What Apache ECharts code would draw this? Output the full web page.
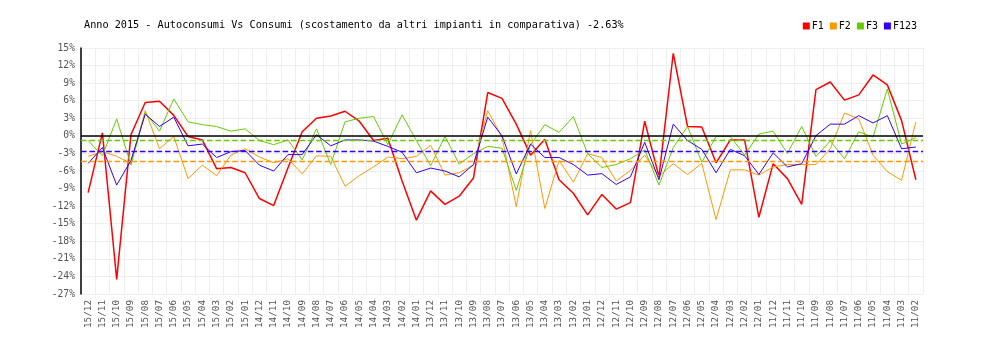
<!DOCTYPE html>
<html>
<head>
<meta charset="utf-8">
<title>Autoconsumi Vs Consumi 2015</title>
<script src="https://cdn.jsdelivr.net/npm/echarts@6/dist/echarts.min.js"></script>
<style>
  html, body { margin: 0; padding: 0; background: #ffffff; }
  #chart { width: 1000px; height: 340px; }
</style>
</head>
<body>
<div id="chart"></div>
<script>
// Monthly deviation (%) of self-consumption vs consumption, newest month first
const categories = [
  '15/12','15/11','15/10','15/09','15/08','15/07','15/06','15/05','15/04','15/03','15/02','15/01',
  '14/12','14/11','14/10','14/09','14/08','14/07','14/06','14/05','14/04','14/03','14/02','14/01',
  '13/12','13/11','13/10','13/09','13/08','13/07','13/06','13/05','13/04','13/03','13/02','13/01',
  '12/12','12/11','12/10','12/09','12/08','12/07','12/06','12/05','12/04','12/03','12/02','12/01',
  '11/12','11/11','11/10','11/09','11/08','11/07','11/06','11/05','11/04','11/03','11/02'
];

const seriesNames = ['F1', 'F2', 'F3', 'F123'];

const f1 = [
  -9.7, 0.5, -24.5, 0.2, 5.7, 5.9, 3.5, -0.1, -0.7, -5.6, -5.4, -6.3,
  -10.7, -11.9, -5.5, 0.7, 3.0, 3.4, 4.2, 2.5, -0.8, -0.4, -7.7, -14.4,
  -9.4, -11.7, -10.3, -7.2, 7.4, 6.4, 2.0, -3.3, -0.6, -7.5, -9.8, -13.5,
  -10.0, -12.5, -11.4, 2.5, -7.0, 14.1, 1.6, 1.5, -4.6, -0.7, -0.7, -13.9,
  -4.75, -7.3, -11.7, 7.9, 9.2, 6.1, 7.0, 10.4, 8.7, 2.6, -7.5
];

const f2 = [
  -3.5, -2.7, -3.5, -4.7, 4.3, -2.2, -0.1, -7.3, -5.0, -6.8, -3.3, -2.2,
  -3.6, -4.6, -3.9, -6.5, -3.4, -3.5, -8.6, -6.8, -5.3, -3.6, -3.9, -3.5,
  -1.6, -6.7, -6.3, -5.0, 4.3, -0.2, -12.1, 0.9, -12.4, -4.2, -7.9, -3.05,
  -3.7, -7.7, -5.9, -3.3, -6.9, -4.75, -6.6, -4.7, -14.3, -5.8, -5.8, -6.7,
  -5.3, -4.9, -4.9, -4.9, -2.2, 3.9, 2.9, -3.3, -6.1, -7.6, 2.4
];

const f3 = [
  -0.8, -3.4, 2.9, -5.0, 4.0, 0.8, 6.3, 2.4, 1.9, 1.6, 0.8, 1.2,
  -0.8, -1.5, -0.7, -4.1, 1.2, -4.9, 2.4, 3.0, 3.3, -1.5, 3.6, -0.8,
  -5.1, -0.1, -4.8, -3.05, -1.8, -2.1, -9.3, -1.5, 1.9, 0.6, 3.3, -3.05,
  -5.4, -4.9, -3.9, -2.4, -8.4, -2.0, 1.6, -4.5, -0.1, -0.1, -3.3, 0.3,
  0.8, -3.0, 1.6, -3.5, -0.9, -3.9, 0.7, -0.2, 8.0, -1.4, -0.3
];

const f123 = [
  -4.7, -2.0, -8.4, -4.2, 3.7, 1.6, 3.2, -1.7, -1.4, -3.7, -2.7, -2.5,
  -5.0, -6.0, -3.2, -3.2, 0.2, -1.7, -0.7, -0.7, -0.9, -1.8, -2.8, -6.3,
  -5.5, -6.0, -7.0, -4.9, 3.2, 0.0, -6.5, -1.4, -3.7, -3.7, -4.9, -6.7,
  -6.45, -8.3, -7.0, -1.1, -7.5, 2.0, -0.8, -2.3, -6.3, -2.3, -3.4, -6.6,
  -2.9, -5.3, -4.75, 0.05, 2.0, 2.0, 3.45, 2.2, 3.45, -2.2, -1.9
];

const seriesData = [f1, f2, f3, f123];
const seriesColors = ['#ff0000', '#ff9900', '#66cc00', '#3300ff'];
const seriesWidths = [1.5, 1, 1, 1];
// which series get a dashed mean line (F1's mean sits under the F123 one)
const showMean = [false, true, true, true];

const titleText = 'Anno 2015 - Autoconsumi Vs Consumi (scostamento da altri impianti in comparativa) -2.63%';
const mono = "'DejaVu Sans Mono', 'Liberation Mono', monospace";

const chart = echarts.init(document.getElementById('chart'), null, { renderer: 'canvas' });

const series = seriesNames.map((name, k) => {
  const s = {
    name: name,
    type: 'line',
    data: seriesData[k],
    showSymbol: false,
    symbol: 'none',
    smooth: false,
    animation: false,
    lineStyle: { color: seriesColors[k], width: seriesWidths[k] },
    itemStyle: { color: seriesColors[k] }
  };
  if (showMean[k]) {
    s.markLine = {
      silent: true,
      symbol: ['none', 'none'],
      label: { show: false },
      animation: false,
      lineStyle: { color: seriesColors[k], type: 'dashed', width: 1.4 },
      data: [{ type: 'average' }]
    };
  }
  return s;
});

// zero reference line, drawn by a data-less helper series
series.push({
  name: 'zero',
  type: 'line',
  data: [],
  silent: true,
  animation: false,
  markLine: {
    silent: true,
    symbol: ['none', 'none'],
    label: { show: false },
    animation: false,
    lineStyle: { color: '#000000', type: 'solid', width: 1.5 },
    data: [{ yAxis: 0 }]
  }
});

chart.setOption({
  backgroundColor: '#ffffff',
  animation: false,
  title: {
    text: titleText,
    left: 79,
    top: 15,
    textStyle: { fontFamily: mono, fontSize: 10.2, fontWeight: 'normal', color: '#000000' }
  },
  legend: {
    data: seriesNames,
    right: 78,
    top: 16,
    icon: 'rect',
    itemWidth: 7,
    itemHeight: 7,
    itemGap: 6,
    textStyle: { fontFamily: mono, fontSize: 10, color: '#000000', padding: [0, 0, 0, -3] }
  },
  grid: { left: 81, width: 842, top: 48, height: 246, containLabel: false },
  xAxis: {
    type: 'category',
    data: categories,
    boundaryGap: true,
    axisLine: { show: false },
    axisTick: { show: false },
    splitLine: { show: true, interval: 0, lineStyle: { color: '#eeeeee', width: 1 } },
    axisLabel: {
      interval: 0,
      rotate: 90,
      margin: 6,
      fontFamily: mono,
      fontSize: 9.3,
      color: '#555555'
    }
  },
  yAxis: {
    type: 'value',
    min: -27,
    max: 15,
    interval: 3,
    axisLine: { show: true, onZero: false, lineStyle: { color: '#000000', width: 1.5 } },
    axisTick: { show: false },
    splitLine: { show: true, lineStyle: { color: '#eeeeee', width: 1 } },
    axisLabel: {
      formatter: '{value}%',
      margin: 6,
      fontFamily: mono,
      fontSize: 9.7,
      color: '#555555'
    }
  },
  series: series
});
</script>
</body>
</html>
